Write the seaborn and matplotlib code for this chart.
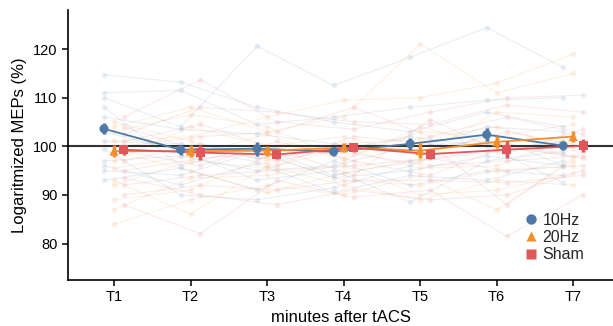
import numpy as np
import pandas as pd
import matplotlib
matplotlib.use("Agg")
import matplotlib.pyplot as plt
import seaborn as sns

# time points and conditions
times = ["T1", "T2", "T3", "T4", "T5", "T6", "T7"]
conditions = ["10Hz", "20Hz", "Sham"]

# group means and standard errors
mean_10hz = [103.6, 99.3, 99.5, 98.9, 100.5, 102.4, 100.1]
mean_20hz = [99.0, 99.0, 99.1, 99.7, 99.1, 100.9, 102.0]
mean_sham = [99.3, 98.7, 98.3, 99.7, 98.4, 99.3, 100.1]
se_10hz = [1.1, 1.0, 1.4, 1.0, 1.3, 1.4, 0.9]
se_20hz = [1.2, 1.2, 1.0, 0.9, 1.5, 1.3, 1.2]
se_sham = [1.0, 1.5, 1.0, 0.9, 1.1, 1.7, 1.3]

# single subjects (faint lines in the background)
subj_10hz = [
    [110.0, 104.0, 120.6, 112.5, 118.3, 124.4, 116.2],
    [114.7, 113.2, 108.0, 105.0, 103.0, 107.0, 104.0],
    [111.0, 111.5, 104.5, 106.0, 108.0, 109.5, 110.0],
    [106.0, 103.5, 102.5, 100.5, 99.0, 104.0, 103.0],
    [108.0, 96.0, 100.0, 94.0, 97.0, 99.0, 101.0],
    [97.0, 98.0, 95.0, 96.0, 100.0, 101.0, 98.5],
    [95.0, 94.0, 99.0, 93.5, 95.0, 98.0, 96.0],
    [93.0, 95.5, 91.0, 97.0, 92.0, 95.0, 94.0],
    [96.0, 92.0, 96.5, 90.5, 94.0, 93.0, 97.0],
    [103.0, 99.0, 93.0, 95.0, 88.5, 97.0, 99.0],
    [101.0, 100.5, 97.5, 99.0, 102.0, 100.0, 92.5],
    [99.5, 90.0, 89.0, 91.5, 96.0, 102.5, 96.0],
]
subj_20hz = [
    [104.0, 108.0, 103.0, 106.0, 121.0, 111.0, 115.0],
    [101.0, 102.0, 106.0, 109.5, 110.0, 113.0, 119.0],
    [97.0, 104.0, 100.0, 102.0, 98.0, 107.0, 106.0],
    [95.5, 98.0, 102.5, 97.0, 104.0, 100.0, 98.0],
    [92.0, 97.0, 95.5, 99.5, 95.5, 96.0, 102.0],
    [89.0, 91.0, 98.0, 93.0, 92.0, 95.0, 96.0],
    [87.0, 93.5, 94.0, 96.0, 90.0, 91.0, 94.5],
    [84.0, 89.0, 92.0, 90.0, 94.0, 87.0, 97.0],
    [105.0, 101.0, 97.0, 100.5, 101.5, 104.0, 99.5],
    [99.0, 95.0, 90.5, 94.5, 97.0, 99.0, 101.0],
    [103.0, 106.5, 104.0, 97.5, 103.0, 102.0, 104.5],
    [93.0, 86.0, 96.0, 92.0, 89.0, 93.0, 92.0],
]
subj_sham = [
    [106.0, 113.7, 105.0, 103.5, 107.0, 110.0, 110.5],
    [102.5, 108.0, 107.0, 105.0, 104.5, 108.5, 107.0],
    [100.0, 102.0, 103.0, 108.0, 102.0, 106.0, 102.5],
    [97.0, 100.5, 97.0, 100.0, 99.0, 103.0, 100.0],
    [95.0, 97.5, 99.0, 98.5, 96.0, 97.0, 98.0],
    [92.0, 94.0, 95.0, 96.0, 97.5, 95.0, 96.0],
    [90.0, 92.0, 91.0, 93.0, 93.0, 92.5, 94.0],
    [88.0, 82.0, 93.0, 89.5, 91.0, 81.5, 90.0],
    [99.0, 96.0, 101.0, 97.0, 94.0, 100.0, 97.5],
    [104.0, 99.0, 96.0, 102.0, 100.5, 88.0, 99.0],
    [93.5, 90.0, 88.0, 91.0, 89.0, 90.0, 95.0],
    [101.0, 104.5, 99.5, 94.0, 105.5, 98.5, 103.5],
]

palette = {"10Hz": "#4e79a7", "20Hz": "#f28e2b", "Sham": "#e15759"}
markers = {"10Hz": "o", "20Hz": "^", "Sham": "s"}
offset = {"10Hz": -0.13, "20Hz": 0.0, "Sham": 0.13}

# long tables
rows = []
for cond, subj in zip(conditions, [subj_10hz, subj_20hz, subj_sham]):
    for i, vals in enumerate(subj):
        for t, v in enumerate(vals):
            rows.append({"cond": cond, "subj": f"{cond}_{i}", "x": t + offset[cond], "value": v})
df_subj = pd.DataFrame(rows)

rows = []
for cond, m, s in zip(conditions, [mean_10hz, mean_20hz, mean_sham], [se_10hz, se_20hz, se_sham]):
    for t in range(len(times)):
        rows.append({"cond": cond, "x": t + offset[cond], "mean": m[t], "se": s[t]})
df_mean = pd.DataFrame(rows)

sns.set_theme(style="ticks")
plt.rcParams["font.family"] = ["Liberation Sans", "DejaVu Sans"]

fig = plt.figure(figsize=(6.13, 3.26), dpi=100)
ax = fig.add_axes([0.111, 0.141, 0.889, 0.828])

# background subjects
sns.lineplot(data=df_subj, x="x", y="value", hue="cond", units="subj", estimator=None,
             palette=palette, marker="o", markersize=4, linewidth=0.8, alpha=0.12,
             legend=False, ax=ax, zorder=1)

ax.axhline(100, color="#333333", linewidth=1.5, zorder=2)

# group means
sns.lineplot(data=df_mean, x="x", y="mean", hue="cond", palette=palette,
             linewidth=1.3, legend=False, ax=ax, zorder=3)
for cond in conditions:
    d = df_mean[df_mean["cond"] == cond]
    ax.errorbar(d["x"], d["mean"], yerr=d["se"], fmt="none", ecolor=palette[cond],
                elinewidth=2.5, capsize=0, zorder=4)
sns.scatterplot(data=df_mean, x="x", y="mean", hue="cond", style="cond",
                palette=palette, markers=markers, s=42, edgecolor="none",
                ax=ax, zorder=5)

ax.set_xticks(range(len(times)))
ax.set_xticklabels(times)
ax.set_xlim(-0.6, 6.52)
ax.set_ylim(72.5, 128)
ax.set_yticks([80, 90, 100, 110, 120])
ax.tick_params(labelsize=10.5, length=4, width=1.1, color="black", labelcolor="black")
ax.set_xlabel("minutes after tACS", fontsize=12, color="black")
ax.set_ylabel("Logaritmized MEPs (%)", fontsize=12, color="black")
sns.despine(ax=ax)
for sp in ["left", "bottom"]:
    ax.spines[sp].set_color("black")
    ax.spines[sp].set_linewidth(1.2)

ax.legend(loc="lower right", bbox_to_anchor=(0.965, 0.03), frameon=False, fontsize=11.5,
          handletextpad=0.1, handlelength=1.2, labelspacing=0.15, borderaxespad=0.2,
          markerscale=1.15)

fig.savefig("out.png", dpi=100)
